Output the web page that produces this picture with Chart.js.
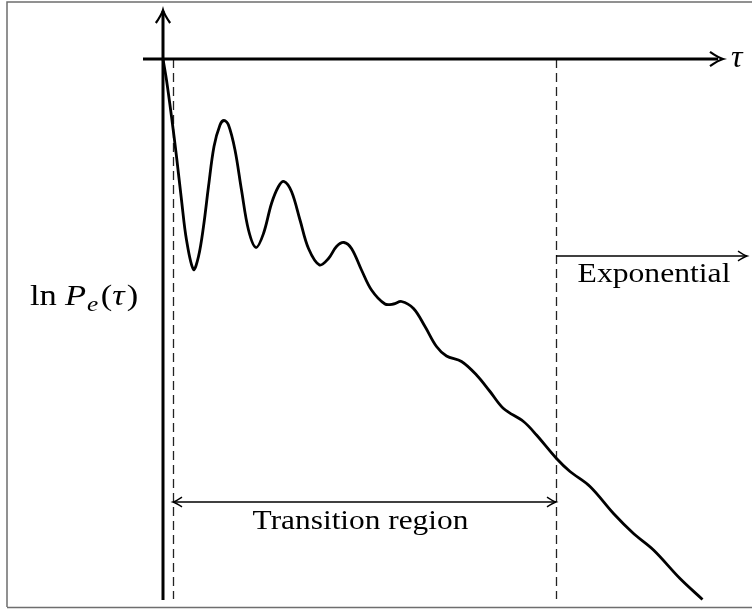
<!DOCTYPE html>
<html>
<head>
<meta charset="utf-8">
<script src="https://cdn.jsdelivr.net/npm/chart.js@4"></script>
<style>
  html, body { margin: 0; padding: 0; background: #fff; }
  canvas { display: block; }
</style>
</head>
<body>
<canvas id="decayChart" width="752" height="610"></canvas>
<script>
// curve of ln P_e(tau) (arbitrary units)
const tau = [0, 0.07, 0.17, 0.27, 0.37, 0.47, 0.61, 0.71, 0.81, 0.91, 1.02, 1.14, 1.22, 1.31,
    1.44, 1.57, 1.71, 1.86, 2.01, 2.17, 2.31, 2.42, 2.57, 2.74, 2.91, 3.13, 3.31, 3.47, 3.62,
    3.77, 3.97, 4.17, 4.44, 4.61, 4.77, 5.01, 5.24, 5.47, 5.67, 5.97, 6.27, 6.54, 6.81, 7.21,
    7.47, 7.87, 8.14, 8.54, 9.01, 9.41, 9.81, 10.34, 10.79];
const lnP = [0, -0.42, -1.15, -1.95, -2.82, -3.62, -4.21, -3.95, -3.35, -2.55, -1.75, -1.32, -1.23, -1.32,
    -1.82, -2.62, -3.42, -3.77, -3.49, -2.89, -2.55, -2.45, -2.65, -3.22, -3.79, -4.12, -3.99, -3.75, -3.67,
    -3.79, -4.22, -4.62, -4.90, -4.90, -4.85, -4.99, -5.35, -5.75, -5.94, -6.05, -6.32, -6.65, -6.99, -7.25,
    -7.52, -7.99, -8.25, -8.55, -9.09, -9.49, -9.82, -10.39, -10.81];

// region boundaries on the tau axis
const transitionStart = 0.2;
const transitionEnd = 7.86;

const serif = '"Liberation Serif", "DejaVu Serif", serif';

function arrowHead(ctx, x, y, angle, size) {
    ctx.save();
    ctx.translate(x, y);
    ctx.rotate(angle);
    ctx.beginPath();
    ctx.moveTo(-size, -size * 0.55);
    ctx.quadraticCurveTo(-size * 0.35, -size * 0.1, 0, 0);
    ctx.quadraticCurveTo(-size * 0.35, size * 0.1, -size, size * 0.55);
    ctx.stroke();
    ctx.restore();
}

// text stretched a little sideways, Computer Modern is wider than Times
function wideText(ctx, txt, cx, by, sx) {
    ctx.save();
    ctx.translate(cx, by);
    ctx.scale(sx, 1);
    ctx.fillText(txt, 0, 0);
    ctx.restore();
}

const sketchPlugin = {
    id: 'sketch',
    beforeDatasetsDraw(chart) {
        const { ctx, scales: { x, y } } = chart;
        ctx.save();
        ctx.lineCap = 'butt';

        // dashed boundaries
        ctx.lineWidth = 1.3;
        ctx.strokeStyle = '#222';
        ctx.setLineDash([9, 5]);
        [transitionStart, transitionEnd].forEach(t => {
            const px = Math.round(x.getPixelForValue(t)) + 0.5;
            ctx.beginPath();
            ctx.moveTo(px, y.getPixelForValue(0));
            ctx.lineTo(px, y.getPixelForValue(-10.8));
            ctx.stroke();
        });
        ctx.setLineDash([]);
        ctx.strokeStyle = '#000';

        // axes
        ctx.lineWidth = 3;
        const y0 = y.getPixelForValue(0);
        const x0 = x.getPixelForValue(0);
        ctx.beginPath();
        ctx.moveTo(x.getPixelForValue(-0.4), y0);
        ctx.lineTo(x.getPixelForValue(11.1), y0);
        ctx.stroke();
        ctx.beginPath();
        ctx.moveTo(x0, y.getPixelForValue(-10.82));
        ctx.lineTo(x0, y.getPixelForValue(0.96));
        ctx.stroke();
        ctx.lineWidth = 2.2;
        arrowHead(ctx, x.getPixelForValue(11.2), y0, 0, 13);
        arrowHead(ctx, x0, y.getPixelForValue(0.98), -Math.PI / 2, 13);

        // region arrows
        ctx.lineWidth = 1.4;
        const yT = y.getPixelForValue(-8.86);
        const xa = x.getPixelForValue(transitionStart);
        const xb = x.getPixelForValue(transitionEnd);
        ctx.beginPath();
        ctx.moveTo(xa, yT);
        ctx.lineTo(xb, yT);
        ctx.stroke();
        arrowHead(ctx, xa, yT, Math.PI, 9);
        arrowHead(ctx, xb, yT, 0, 9);

        const yE = y.getPixelForValue(-3.94);
        const xe = x.getPixelForValue(11.68);
        ctx.beginPath();
        ctx.moveTo(xb, yE);
        ctx.lineTo(xe, yE);
        ctx.stroke();
        arrowHead(ctx, xe, yE, 0, 9);
        ctx.restore();
    },
    afterDraw(chart) {
        const { ctx, scales: { x } } = chart;
        ctx.save();
        ctx.fillStyle = '#000';
        ctx.textBaseline = 'alphabetic';

        ctx.font = '28px ' + serif;
        ctx.textAlign = 'center';
        wideText(ctx, 'Transition region', x.getPixelForValue((transitionStart + transitionEnd) / 2) - 4, 529, 1.12);
        wideText(ctx, 'Exponential', 654, 282, 1.13);

        ctx.font = 'italic 32px ' + serif;
        ctx.textAlign = 'left';
        ctx.fillText('\u03C4', 731, 67);

        // y label: ln P_e(tau)
        ctx.save();
        ctx.translate(30, 305);
        ctx.scale(1.15, 1);
        let px = 0;
        const part = (txt, font, dy) => {
            ctx.font = font;
            ctx.fillText(txt, px, dy || 0);
            px += ctx.measureText(txt).width;
        };
        part('ln', '30px ' + serif);
        px += 7;
        part('P', 'italic 30px ' + serif);
        px += 1;
        part('e', 'italic 22px ' + serif, 6);
        px += 2;
        part('(', '30px ' + serif);
        part('\u03C4', 'italic 30px ' + serif);
        px += 2;
        part(')', '30px ' + serif);
        ctx.restore();

        // frame
        ctx.strokeStyle = '#6e6e6e';
        ctx.lineWidth = 1.5;
        ctx.beginPath();
        ctx.moveTo(7, 607);
        ctx.lineTo(7, 2);
        ctx.lineTo(752, 2);
        ctx.moveTo(7, 607.5);
        ctx.lineTo(752, 607.5);
        ctx.stroke();
        ctx.restore();
    }
};

const config = {
    type: 'line',
    data: {
        datasets: [{
            data: tau.map((t, i) => ({ x: t, y: lnP[i] })),
            borderColor: '#000',
            borderWidth: 2.8,
            pointRadius: 0,
            tension: 0.35,
            fill: false
        }]
    },
    options: {
        responsive: false,
        animation: false,
        layout: { padding: 0 },
        plugins: {
            legend: { display: false },
            tooltip: { enabled: false }
        },
        scales: {
            x: { type: 'linear', min: -3.26, max: 11.78, display: false },
            y: { type: 'linear', min: -11.02, max: 1.18, display: false }
        }
    },
    plugins: [sketchPlugin]
};

new Chart(document.getElementById('decayChart'), config);
</script>
</body>
</html>
